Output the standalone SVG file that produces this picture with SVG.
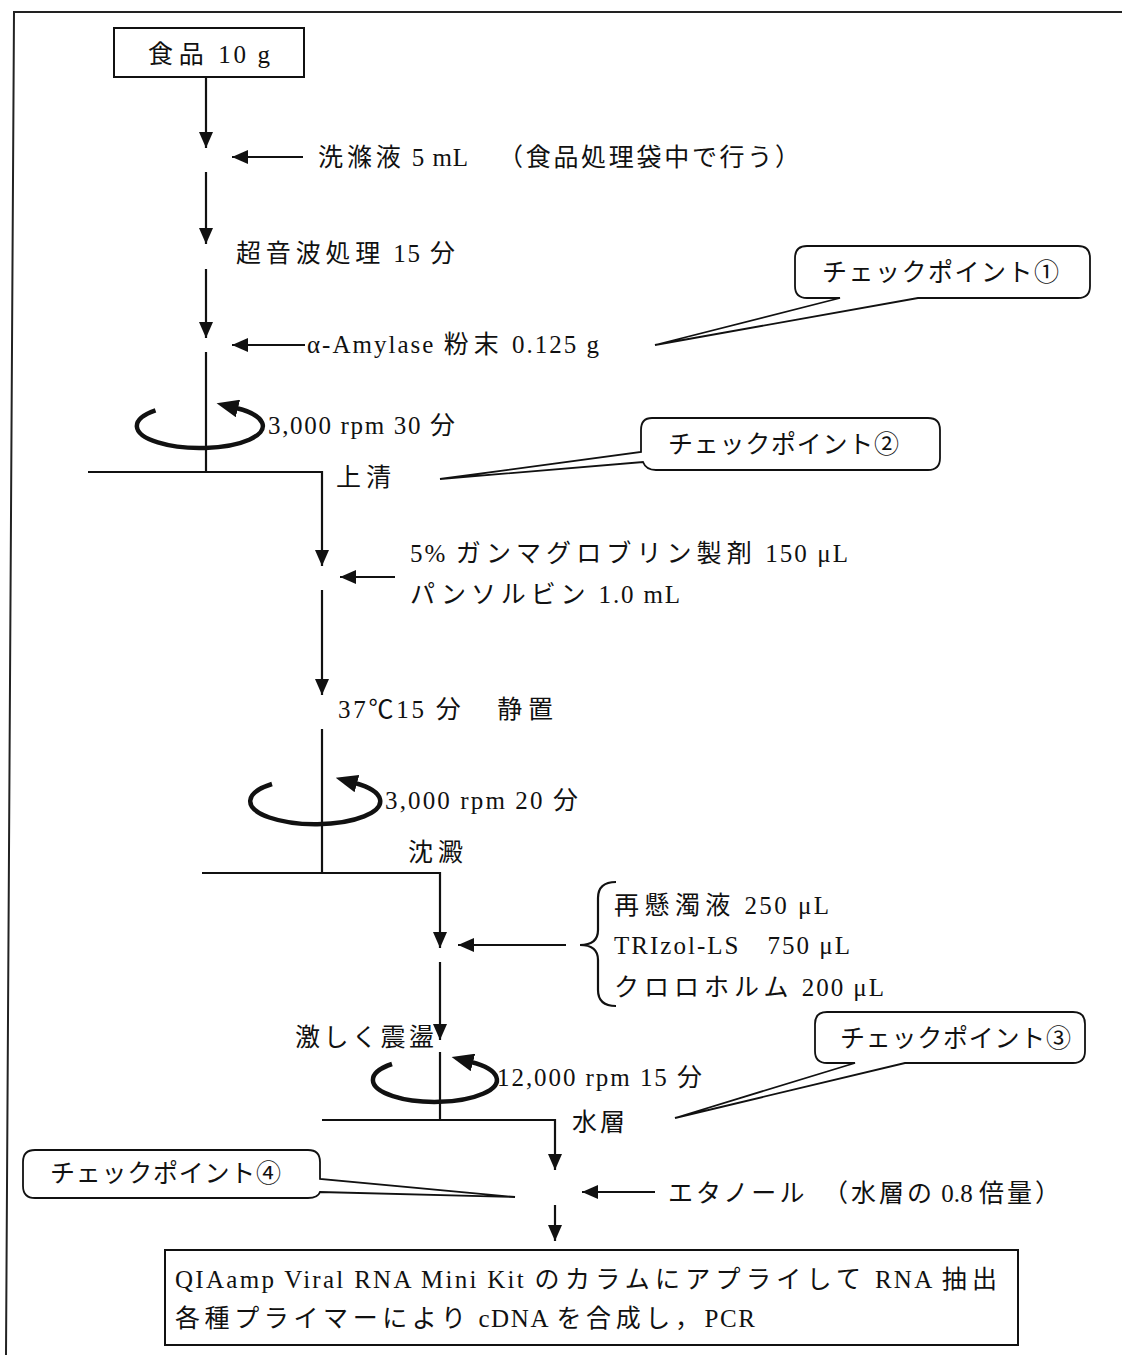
<svg xmlns="http://www.w3.org/2000/svg" width="1122" height="1355" viewBox="0 0 1122 1355">
<style>
text{font-family:"Liberation Serif","Noto Sans CJK JP",serif;font-size:25px;fill:#111}
.j{letter-spacing:3px}
.ln{fill:none;stroke:#111;stroke-width:2.2}
.fr{fill:none;stroke:#222;stroke-width:2}
.box{fill:#fff;stroke:#111;stroke-width:2}
.cl{fill:#fff;stroke:#111;stroke-width:1.8}
.rot{fill:none;stroke:#111;stroke-width:4.5}
</style>
<defs>
<marker id="ah" viewBox="0 0 16 14" refX="16" refY="7" markerWidth="16" markerHeight="14" markerUnits="userSpaceOnUse" orient="auto"><path d="M0,0 L16,7 L0,14 Z" fill="#111"/></marker>
<marker id="rh" viewBox="0 0 22 18" refX="2" refY="9" markerWidth="22" markerHeight="18" markerUnits="userSpaceOnUse" orient="auto"><path d="M0,0 L22,9 L0,18 Z" fill="#111"/></marker>
</defs>
<rect width="1122" height="1355" fill="#fff"/>
<path class="fr" d="M1122,12 H14 L6,1355"/>

<g id="connectors">
<line class="ln" x1="206" y1="77" x2="206" y2="148" marker-end="url(#ah)"/>
<line class="ln" x1="303" y1="157" x2="232" y2="157" marker-end="url(#ah)"/>
<line class="ln" x1="206" y1="172" x2="206" y2="244" marker-end="url(#ah)"/>
<line class="ln" x1="206" y1="269" x2="206" y2="338" marker-end="url(#ah)"/>
<line class="ln" x1="305" y1="345" x2="232" y2="345" marker-end="url(#ah)"/>
<line class="ln" x1="206" y1="352" x2="206" y2="472"/>
<polyline class="ln" points="88,472 322,472 322,566" marker-end="url(#ah)"/>
<line class="ln" x1="395" y1="577" x2="340" y2="577" marker-end="url(#ah)"/>
<line class="ln" x1="322" y1="590" x2="322" y2="695" marker-end="url(#ah)"/>
<line class="ln" x1="322" y1="729" x2="322" y2="873"/>
<polyline class="ln" points="202,873 440,873 440,948" marker-end="url(#ah)"/>
<line class="ln" x1="566" y1="945" x2="458" y2="945" marker-end="url(#ah)"/>
<line class="ln" x1="440" y1="962" x2="440" y2="1040" marker-end="url(#ah)"/>
<line class="ln" x1="440" y1="1052" x2="440" y2="1120"/>
<polyline class="ln" points="322,1120 555,1120 555,1170" marker-end="url(#ah)"/>
<line class="ln" x1="655" y1="1192" x2="582" y2="1192" marker-end="url(#ah)"/>
<line class="ln" x1="555" y1="1205" x2="555" y2="1241" marker-end="url(#ah)"/>
</g>

<g id="node-food">
<rect class="box" x="114" y="28" width="190" height="49"/>
<text x="148" y="63" textLength="122"><tspan class="j">食品</tspan> 10 g</text>
</g>

<g id="step-wash">
<text x="318" y="166" textLength="150"><tspan class="j">洗滌液</tspan> 5 mL</text>
<text x="498" y="166" textLength="305" class="j">（食品処理袋中で行う）</text>
</g>

<g id="step-sonic">
<text x="236" y="262" textLength="222"><tspan class="j">超音波処理</tspan> 15 <tspan class="j">分</tspan></text>
</g>

<g id="step-amylase">
<text x="307" y="353" textLength="292">α-Amylase <tspan class="j">粉末</tspan> 0.125 g</text>
</g>

<g id="checkpoint-1">
<path class="cl" d="M807,246 H1078 Q1090,246 1090,258 V286 Q1090,298 1078,298 H918 L655,345 L840,298 H807 Q795,298 795,286 V258 Q795,246 807,246 Z"/>
<text x="822" y="281" textLength="240" class="j">チェックポイント①</text>
</g>

<g id="centrifuge-1">
<path class="rot" d="M155.5,410.4 A63,22 0 1,0 236,408" marker-end="url(#rh)"/>
<text x="268" y="434" textLength="190">3,000 rpm 30 <tspan class="j">分</tspan></text>
</g>

<g id="step-supernatant">
<text x="336" y="486" textLength="58" class="j">上清</text>
</g>

<g id="checkpoint-2">
<path class="cl" d="M652,418 H928 Q940,418 940,430 V458 Q940,470 928,470 H656 Q646,470 643,462 L440,479 L641,452 V430 Q641,418 652,418 Z"/>
<text x="668" y="453" textLength="234" class="j">チェックポイント②</text>
</g>

<g id="step-gamma">
<text x="410" y="562" textLength="438">5% <tspan class="j">ガンマグロブリン製剤</tspan> 150 μL</text>
<text x="410" y="603" textLength="270"><tspan class="j">パンソルビン</tspan> 1.0 mL</text>
</g>

<g id="step-incubate">
<text x="338" y="718" textLength="218">37℃15 <tspan class="j">分　静置</tspan></text>
</g>

<g id="centrifuge-2">
<path class="rot" d="M272,784 A65,23 0 1,0 355,783" marker-end="url(#rh)"/>
<text x="385" y="809" textLength="196">3,000 rpm 20 <tspan class="j">分</tspan></text>
<text x="408" y="861" textLength="58" class="j">沈澱</text>
</g>

<g id="step-trizol">
<path class="ln" d="M616,882 Q598,882 598,898 V930 Q598,945 580,945 Q598,945 598,960 V990 Q598,1006 616,1006"/>
<text x="614" y="914" textLength="215"><tspan class="j">再懸濁液</tspan> 250 μL</text>
<text x="614" y="954" textLength="236">TRIzol-LS　750 μL</text>
<text x="614" y="996" textLength="270"><tspan class="j">クロロホルム</tspan> 200 μL</text>
</g>

<g id="step-shake">
<text x="295" y="1046" textLength="142" class="j">激しく震盪</text>
</g>

<g id="centrifuge-3">
<path class="rot" d="M392,1064 A62,22 0 1,0 471,1062" marker-end="url(#rh)"/>
<text x="497" y="1086" textLength="208">12,000 rpm 15 <tspan class="j">分</tspan></text>
</g>

<g id="checkpoint-3">
<path class="cl" d="M827,1012 H1073 Q1085,1012 1085,1024 V1051 Q1085,1063 1073,1063 H905 L675,1118 L855,1063 H827 Q815,1063 815,1051 V1024 Q815,1012 827,1012 Z"/>
<text x="840" y="1047" textLength="234" class="j">チェックポイント③</text>
</g>

<g id="step-aqueous">
<text x="572" y="1131" textLength="56" class="j">水層</text>
</g>

<g id="checkpoint-4">
<path class="cl" d="M35,1150 H308 Q320,1150 320,1162 V1179 L515,1197 L320,1192 Q318,1198 308,1198 H35 Q23,1198 23,1186 V1162 Q23,1150 35,1150 Z"/>
<text x="50" y="1182" textLength="234" class="j">チェックポイント④</text>
</g>

<g id="step-ethanol">
<text x="668" y="1202" textLength="395"><tspan class="j">エタノール　（水層の</tspan> 0.8 <tspan class="j">倍量）</tspan></text>
</g>

<g id="node-final">
<rect class="box" x="165" y="1250" width="853" height="95"/>
<text x="175" y="1288" textLength="825">QIAamp Viral RNA Mini Kit <tspan class="j">のカラムにアプライして</tspan> RNA <tspan class="j">抽出</tspan></text>
<text x="175" y="1327" textLength="580"><tspan class="j">各種プライマーにより</tspan> cDNA <tspan class="j">を合成し，</tspan>PCR</text>
</g>
</svg>
